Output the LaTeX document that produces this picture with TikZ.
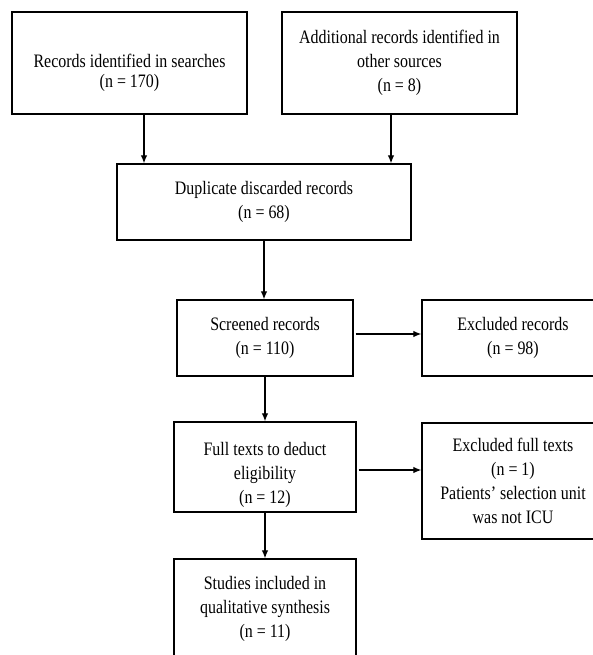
\documentclass[tikz,border=0pt]{standalone}
\usepackage{fontspec}
\setmainfont{Liberation Serif}[FakeStretch=0.84]
\usetikzlibrary{arrows.meta}

\tikzset{
  box/.style={draw, line width=1.3pt, align=center, inner sep=0pt,
    font=\fontsize{19}{24}\selectfont},
  arr/.style={line width=1.2pt, -{Latex[length=8pt,width=6.5pt]}}
}

\begin{document}
\begin{tikzpicture}[x=1pt,y=1pt,yscale=-1,xscale=1]
\useasboundingbox (0,0) rectangle (593,655);

\node[box, minimum width=235, minimum height=102] (recs) at (129.5,63) {\rule{0pt}{34pt}Records identified in searches\\[-4pt](n = 170)};
\node[box, minimum width=235, minimum height=102] (addl) at (399.5,63) {Additional records identified in\\other sources\\(n = 8)};
\node[box, minimum width=294, minimum height=76] (dupl) at (264,202) {Duplicate discarded records\\(n = 68)};
\node[box, minimum width=176, minimum height=76] (scrn) at (265,338) {Screened records\\(n = 110)};
\node[box, minimum width=182, minimum height=76] (exrec) at (513,338) {Excluded records\\(n = 98)};
\node[box, minimum width=182, minimum height=90] (full) at (265,467) {\rule{0pt}{30pt}Full texts to deduct\\eligibility\\(n = 12)};
\node[box, minimum width=182, minimum height=116] (exfull) at (513,481) {Excluded full texts\\(n = 1)\\Patients' selection unit\\was not ICU};
\node[box, minimum width=182, minimum height=100] (stud) at (265,609) {Studies included in\\qualitative synthesis\\(n = 11)};

\draw[arr] ([xshift=14.5]recs.south) -- ([xshift=14.5]recs.south |- dupl.north);
\draw[arr] ([xshift=-8.5]addl.south) -- ([xshift=-8.5]addl.south |- dupl.north);
\draw[arr] (dupl.south) -- (dupl.south |- scrn.north);
\draw[arr] ([xshift=2,yshift=-4]scrn.east) -- ([yshift=-4]scrn.east -| exrec.west);
\draw[arr] (scrn.south) -- (full.north);
\draw[arr] ([xshift=2,yshift=3]full.east) -- ([yshift=3]full.east -| exfull.west);
\draw[arr] (full.south) -- (stud.north);

\end{tikzpicture}
\end{document}
